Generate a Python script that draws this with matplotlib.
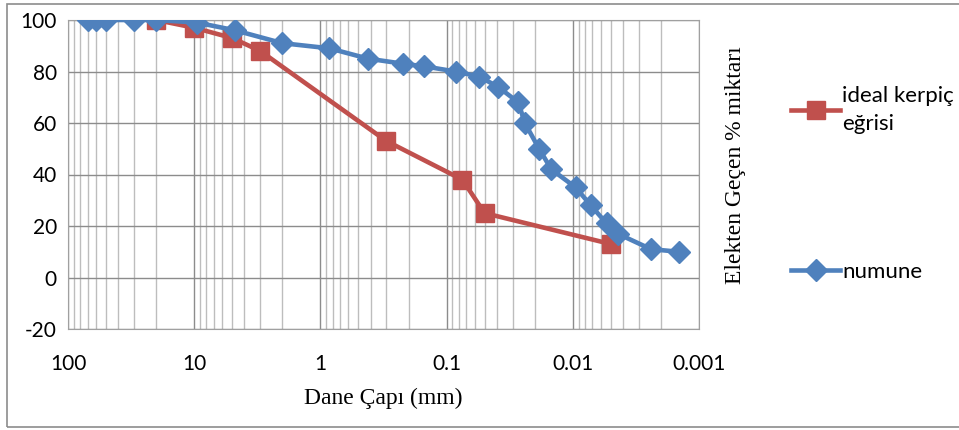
import matplotlib.pyplot as plt
from matplotlib.patches import Rectangle
from matplotlib.ticker import FixedLocator, LogLocator, NullFormatter

# ideal kerpiç eğrisi
ideal_d = [20, 10, 5, 3, 0.3, 0.075, 0.05, 0.005]
ideal_p = [100, 97, 93, 88, 53, 38, 25, 13]

# numune
num_d = [70, 60, 50, 30, 20, 9.5, 4.75, 2, 0.85, 0.42, 0.22, 0.15, 0.085,
         0.055, 0.039, 0.027, 0.024, 0.0185, 0.0148, 0.0095, 0.0072,
         0.0054, 0.0044, 0.0024, 0.00145]
num_p = [100, 100, 100, 100, 100, 99, 96, 91, 89, 85, 83, 82, 80,
         78, 74, 68, 60, 50, 42, 35, 28, 21, 17, 11, 10]

x_ticks = [100, 10, 1, 0.1, 0.01, 0.001]
x_labels = ['100', '10', '1', '0.1', '0.01', '0.001']
y_ticks = [-20, 0, 20, 40, 60, 80, 100]

red = '#C0504D'
blue = '#4F81BD'
sans = ['Lato', 'DejaVu Sans']
serif = ['Liberation Serif', 'DejaVu Serif']

fig = plt.figure(figsize=(9.59, 4.30), dpi=100)
ax = fig.add_axes([68/959, 1-329/430, (699-68)/959, (329-20)/430])

l1, = ax.plot(ideal_d, ideal_p, color=red, lw=3.3, marker='s', ms=13,
              mec=red, mfc=red, zorder=3)
l2, = ax.plot(num_d, num_p, color=blue, lw=3.3, marker='D', ms=11,
              mec=blue, mfc=blue, zorder=4)

ax.set_xscale('log')
ax.set_xlim(100, 0.001)
ax.set_ylim(-20, 100)
ax.xaxis.set_major_locator(FixedLocator(x_ticks))
ax.set_xticklabels(x_labels, fontsize=15, family=sans)
ax.xaxis.set_minor_locator(LogLocator(base=10, subs=range(2, 10), numticks=20))
ax.xaxis.set_minor_formatter(NullFormatter())
ax.set_yticks(y_ticks)
ax.set_yticklabels([str(v) for v in y_ticks], fontsize=15, family=sans)

ax.grid(True, which='major', color='#8C8C8C', lw=1)
ax.grid(True, which='minor', axis='x', color='#BDBDBD', lw=1)
ax.set_axisbelow(True)
ax.tick_params(which='both', length=0)
ax.tick_params(axis='x', pad=18)
ax.tick_params(axis='y', pad=8)
for s in ax.spines.values():
    s.set_color('#A0A0A0')

ax.set_xlabel('Dane Çapı (mm)', fontsize=17, family=serif, labelpad=10)

fig.text(735/959, 1-165/430, 'Elekten Geçen % miktarı', rotation=90,
         ha='center', va='center', fontsize=17, family=serif)

leg1 = fig.legend([l1], ['ideal kerpiç\neğrisi'], loc='center left',
                  bbox_to_anchor=(780/959, 1-110/430), frameon=False,
                  prop={'family': sans, 'size': 16},
                  handlelength=2.2, handletextpad=0.1, borderpad=0)
leg1.get_texts()[0].set_linespacing(1.5)
leg2 = fig.legend([l2], ['numune'], loc='center left',
                  bbox_to_anchor=(780/959, 1-272/430), frameon=False,
                  prop={'family': sans, 'size': 16},
                  handlelength=2.2, handletextpad=0.1, borderpad=0)

fig.patches.append(Rectangle((7/959, 1-427/430), 1.2, (427-4)/430,
                             transform=fig.transFigure, fill=False,
                             ec='#8C8C8C', lw=1.2))

fig.savefig('out.png', dpi=100)
